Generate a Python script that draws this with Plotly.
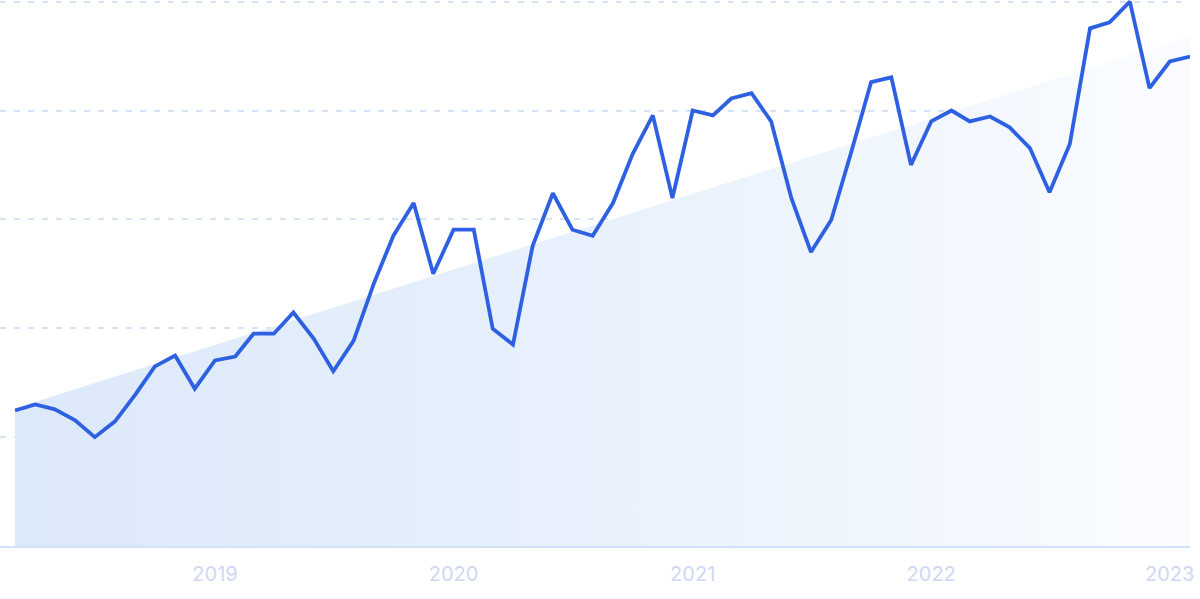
import plotly.graph_objects as go
import pandas as pd

# Monthly index values, Mar 2018 .. Feb 2023
dates = pd.date_range("2018-03-01", "2023-02-01", freq="MS").strftime("%Y-%m-%d").tolist()
values = [
    24.9, 26.0, 25.1, 23.1, 20.0, 22.9, 27.8, 33.0, 35.0, 28.9,
    34.1, 34.8, 39.0, 39.0, 42.9, 38.1, 32.1, 37.7, 48.2, 57.0,
    63.0, 50.0, 58.1, 58.1, 39.9, 37.0, 55.1, 64.8, 58.1, 57.0,
    63.0, 72.0, 79.1, 63.9, 80.0, 79.1, 82.2, 83.2, 78.0, 63.9,
    54.0, 59.9, 72.5, 85.2, 86.1, 70.0, 78.0, 80.0, 78.0, 78.9,
    76.9, 73.1, 65.0, 73.8, 95.1, 96.2, 100.0, 84.1, 89.0, 89.9,
]
# Trend line end points
trend_dates = [dates[0], dates[-1]]
trend_values = [25.3, 93.6]

tick_vals = ["2019-01-01", "2020-01-01", "2021-01-01", "2022-01-01", "2023-01-01"]
tick_text = ["2019", "2020", "2021", "2022", "2023"]

fig = go.Figure()
fig.add_trace(go.Scatter(
    x=trend_dates, y=trend_values, mode="lines",
    line=dict(width=0, color="rgba(0,0,0,0)"),
    fill="tozeroy",
    fillgradient=dict(type="horizontal",
                      colorscale=[[0, "rgb(220,233,250)"], [0.5, "rgb(232,241,252)"], [1, "rgb(250,252,255)"]]),
    hoverinfo="skip", showlegend=False,
))
fig.add_trace(go.Scatter(
    x=dates, y=values, mode="lines",
    line=dict(color="rgb(46,97,226)", width=3.8),
    showlegend=False,
))

fig.update_layout(
    width=1200, height=599,
    margin=dict(l=0, r=10, t=0, b=53, autoexpand=False),
    paper_bgcolor="white", plot_bgcolor="white",
    font=dict(family="Inter, Roboto, sans-serif"),
)
fig.update_xaxes(
    range=["2018-02-06", "2023-02-01"],
    tickvals=tick_vals, ticktext=tick_text,
    tickfont=dict(size=20, color="rgb(206,216,243)"),
    showgrid=False, zeroline=False, automargin=False,
    showline=True, linecolor="rgb(207,226,247)", linewidth=1.5,
    ticks="", ticklabelstandoff=9,
)
fig.update_yaxes(
    range=[0, 100.3], tickvals=[20, 40, 60, 80, 100],
    showticklabels=False, zeroline=False, automargin=False,
    showgrid=True, gridcolor="rgb(214,228,250)", gridwidth=1.5,
    griddash="6px,8px",
)

fig.write_html("out.html", config={"displayModeBar": False},
               post_script="document.body.style.margin='0';document.body.style.overflow='hidden';")
